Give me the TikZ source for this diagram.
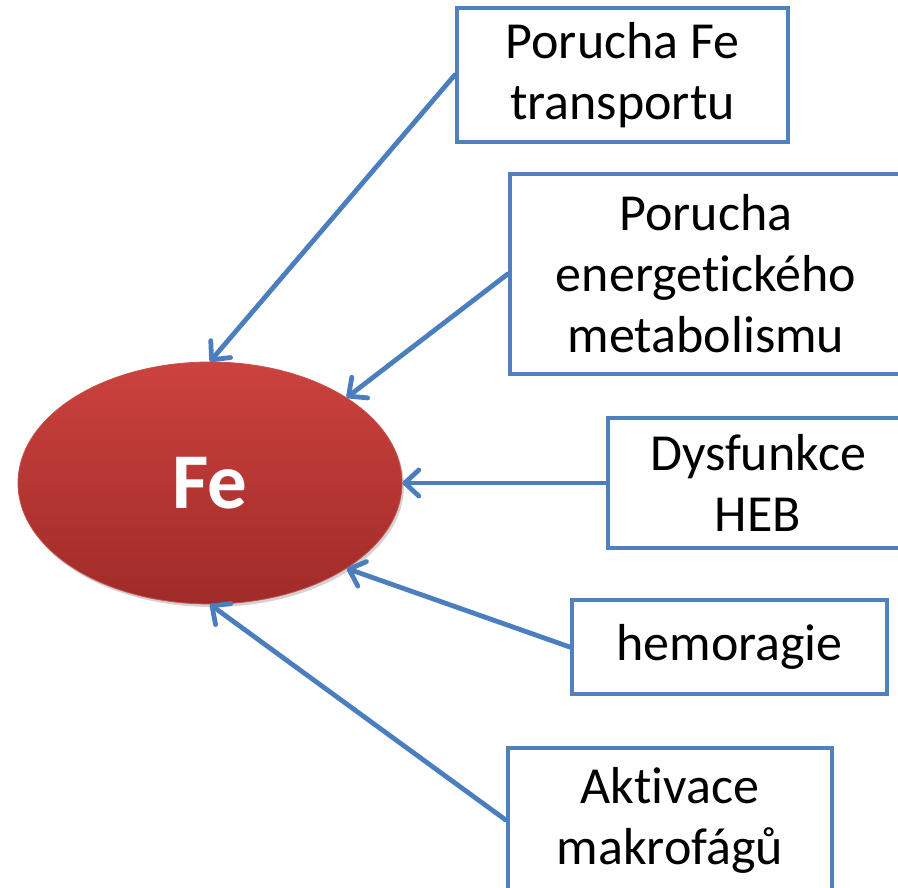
\documentclass[tikz,border=0pt]{standalone}
\usepackage{fontspec}
\setmainfont{Carlito}[RawFeature={-liga;-clig;-calt;-dlig}]
\usetikzlibrary{arrows.meta,shadows,shapes.geometric}
\definecolor{boxblue}{HTML}{4F81BD}
\definecolor{arrowblue}{HTML}{4A7EBF}
\definecolor{fetop}{HTML}{CC423E}
\definecolor{febot}{HTML}{A02B29}
\definecolor{feedge}{HTML}{C4504C}
\newcommand{\nolig}{\kern0pt{}}
\tikzset{
  causebox/.style={draw=boxblue, line width=4.5pt, fill=white, align=center,
    inner sep=0pt, font=\fontsize{52}{61}\selectfont},
  feoval/.style={ellipse, minimum width=384pt, minimum height=242pt, inner sep=0pt,
    top color=fetop, bottom color=febot, draw=feedge, line width=0.8pt,
    drop shadow={opacity=0.35, shadow xshift=2pt, shadow yshift=-3pt},
    text=white, font=\fontsize{79}{82}\selectfont\bfseries},
  feedarrow/.style={draw=arrowblue, line width=4.8pt, line cap=round,
    -{Straight Barb[length=14pt,width=26pt,round]}}
}
\begin{document}
\begin{tikzpicture}[x=1pt,y=-1pt]
\useasboundingbox (0,0) rectangle (898,888);
\begin{scope}
\clip (0,0) rectangle (898,888);
\node[feoval] (fe) at (210,483) {Fe};
\node[causebox, minimum width=331pt, minimum height=134pt] (b1) at (622.5,75) {Porucha Fe\\transportu};
\node[causebox, minimum width=392pt, minimum height=200pt] (b2) at (706,274) {Porucha\\energet\nolig ického\\metabolismu};
\node[causebox, minimum width=300pt, minimum height=130pt] (b3) at (758,483) {Dysfunkce\\HEB};
\node[causebox, minimum width=315pt, minimum height=94pt] (b4) at (729.5,647) {hemoragie};
\node[causebox, minimum width=324pt, minimum height=144pt] (b5) at (670,820) {Akt\nolig ivace\\makrofágů};
\draw[feedarrow] (b1.west) -- (fe.north);
\draw[feedarrow] (b2.west) -- (fe.32);
\draw[feedarrow] (b3.west) -- (fe.east);
\draw[feedarrow] (b4.west) -- (fe.-32);
\draw[feedarrow] (b5.west) -- (fe.south);
\end{scope}
\end{tikzpicture}
\end{document}
